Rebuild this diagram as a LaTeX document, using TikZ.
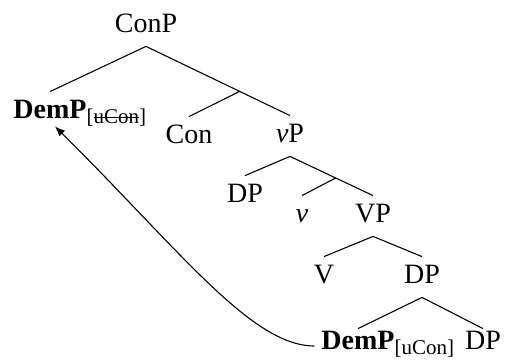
\documentclass[tikz,border=0pt]{standalone}
\usepackage{fontspec}
\setmainfont{Liberation Serif}
\usetikzlibrary{arrows.meta, calc}

% struck-out feature and a lowered feature bracket hanging off a label
\newcommand\strikefeat[1]{\setbox0=\hbox{#1}\rlap{\rule[0.28em]{\wd0}{0.45pt}}\box0}
\newcommand\featsub[1]{\rlap{\raisebox{-2.4pt}{\fontsize{10.5}{12}\selectfont[#1]}}}

\begin{document}
\begin{tikzpicture}[x=0.5pt,y=-0.5pt,
  cat/.style={anchor=base,inner xsep=3.3pt,inner ysep=4.5pt,text height=9pt,text depth=2pt,
    font=\fontsize{14}{16}\selectfont},
  lowcat/.style={cat,text height=6pt},
  branch/.style={line width=0.55pt}]
\useasboundingbox (0,0) rectangle (507,362);

% labels, each sitting on its baseline
\node[cat] (conp) at (146,33) {ConP};
\node[cat] (demA) at (50,119) {\textbf{DemP}\featsub{\strikefeat{uCon}}};
\node[cat] (con) at (189,144) {Con};
\node[cat] (vp) at (290,143) {\textit{v}P};
\node[cat] (dpspec) at (245,203) {DP};
\node[cat] (v) at (302,223) {\textit{v}};
\node[cat] (vbig) at (373,223) {VP};
\node[cat] (vhead) at (324,284) {V};
\node[cat] (dpcomp) at (422,284) {DP};
\node[lowcat] (demB) at (358,350) {\textbf{DemP}\featsub{uCon}};
\node[lowcat] (dpbot) at (483,350) {DP};

% unlabelled bar levels
\coordinate (conbar) at ($(conp.south)!0.65!(vp.north)$);
\coordinate (vbar) at ($(vp.south)!0.55!(vbig.north)$);

% branches
\draw[branch] (conp.south) -- (demA.north);
\draw[branch] (conp.south) -- (conbar) -- (vp.north);
\draw[branch] (conbar) -- (con.north);
\draw[branch] (vp.south) -- (dpspec.north);
\draw[branch] (vp.south) -- (vbar) -- (vbig.north);
\draw[branch] (vbar) -- (v.north);
\draw[branch] (vbig.south) -- (vhead.north);
\draw[branch] (vbig.south) -- (dpcomp.north);
\draw[branch] (dpcomp.south) -- (demB.north);
\draw[branch] (dpcomp.south) -- (dpbot.north);

% movement
\draw[branch,-{Latex[length=5pt,width=4pt]}] ([yshift=2pt]demB.base west)
  .. controls +(-63,0) and +(125,124) .. ([xshift=2.5pt,yshift=3pt]demA.south);
\end{tikzpicture}
\end{document}
